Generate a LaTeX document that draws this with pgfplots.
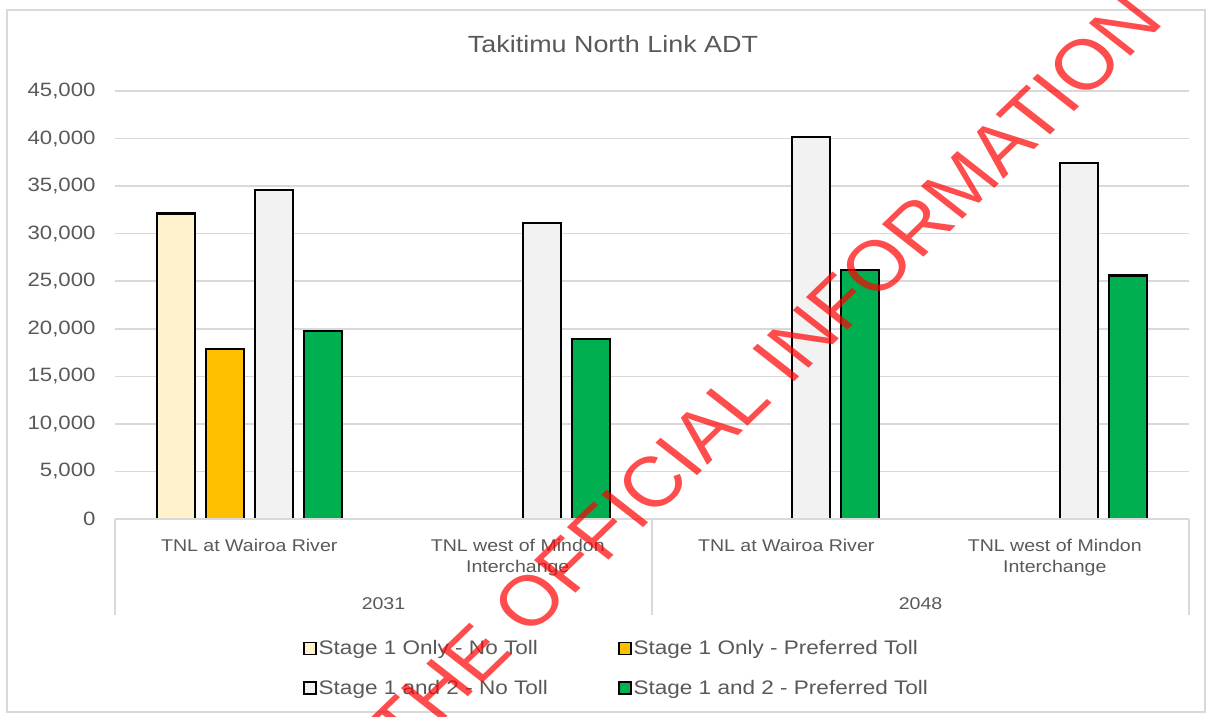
\documentclass[border=0pt]{standalone}
\usepackage{pgfplots}
\pgfplotsset{compat=1.18}
\usepackage{fontspec}
\setmainfont{Liberation Sans}[FakeStretch=1.15]
\newfontfamily\wmfont{Liberation Sans}
\definecolor{txt}{HTML}{595959}
\definecolor{gridc}{HTML}{D9D9D9}
\definecolor{cream}{HTML}{FFF2CC}
\definecolor{gold}{HTML}{FFC000}
\definecolor{lgray}{HTML}{F2F2F2}
\definecolor{mygreen}{HTML}{00B050}
\begin{document}
\begin{tikzpicture}[x=1pt,y=1pt]
\path[use as bounding box] (0,0) rectangle (1211,717);
\draw[gridc, line width=1.5pt] (7,5) rectangle (1205,707);
\begin{axis}[
  at={(115pt,198pt)}, anchor=south west, scale only axis,
  width=1074pt, height=428pt,
  xmin=-0.5, xmax=3.5, ymin=0, ymax=45000,
  xtick=\empty,
  ytick={0,5000,10000,15000,20000,25000,30000,35000,40000,45000},
  scaled y ticks=false,
  yticklabel={\pgfmathprintnumber[fixed,precision=0,1000 sep={,},assume math mode=true]{\tick}},
  yticklabel style={font=\fontsize{19.3}{22}\selectfont, text=txt, xshift=-16pt},
  ymajorgrids, grid style={gridc, line width=1.5pt},
  axis line style={draw=none},
  major tick length=0pt,
  ybar, bar width=38pt,
  legend columns=2,
  legend cell align=left,
  legend style={at={(0.467,-0.349)}, anchor=center, draw=none, fill=none,
    font=\fontsize{19.6}{22}\selectfont, text=txt, row sep=20pt,
    /tikz/every even column/.append style={column sep=68pt}},
  legend image code/.code={\draw[#1, draw=black, line width=1.6pt] (-3pt,-6pt) rectangle (9pt,6pt);},
]
\addplot[fill=cream, draw=black, line width=2.4pt, bar shift=-73.5pt] coordinates {(0,32100)};
\addlegendentry{Stage 1 Only - No Toll}
\addplot[fill=gold, draw=black, line width=2.4pt, bar shift=-24.5pt] coordinates {(0,17900)};
\addlegendentry{Stage 1 Only - Preferred Toll}
\addplot[fill=lgray, draw=black, line width=2.4pt, bar shift=24.5pt] coordinates {(0,34600) (1,31100) (2,40150) (3,37400)};
\addlegendentry{Stage 1 and 2 - No Toll}
\addplot[fill=mygreen, draw=black, line width=2.4pt, bar shift=73.5pt] coordinates {(0,19750) (1,18900) (2,26200) (3,25600)};
\addlegendentry{Stage 1 and 2 - Preferred Toll}
\end{axis}
% category table
\draw[gridc, line width=1.5pt] (115,198) -- (1189,198);
\draw[gridc, line width=1.5pt] (115,198) -- (115,102);
\draw[gridc, line width=1.5pt] (652,198) -- (652,102);
\draw[gridc, line width=1.5pt] (1189,198) -- (1189,102);
\begin{scope}[every node/.style={text=txt, font=\fontsize{17}{20}\selectfont, inner sep=0pt}]
\node at (249.25,172) {TNL at Wairoa River};
\node at (517.75,172) {TNL west of Mindon};
\node at (517.75,149) {Interchange};
\node at (786.25,172) {TNL at Wairoa River};
\node at (1054.75,172) {TNL west of Mindon};
\node at (1054.75,149) {Interchange};
\node at (383.5,113) {2031};
\node at (920.5,113) {2048};
\end{scope}
\node[text=txt, font=\fontsize{23.4}{26}\selectfont, inner sep=0pt] at (613,673) {Takitimu North Link ADT};
\begin{scope}[shift={(765,343)}, xscale=1.15, rotate=48]
\node[transform shape, text=red, opacity=0.7, inner sep=0pt, font=\wmfont\fontsize{70.7}{74}\selectfont] at (0,0) {THE OFFICIAL INFORMATION};
\end{scope}
\end{tikzpicture}
\end{document}
